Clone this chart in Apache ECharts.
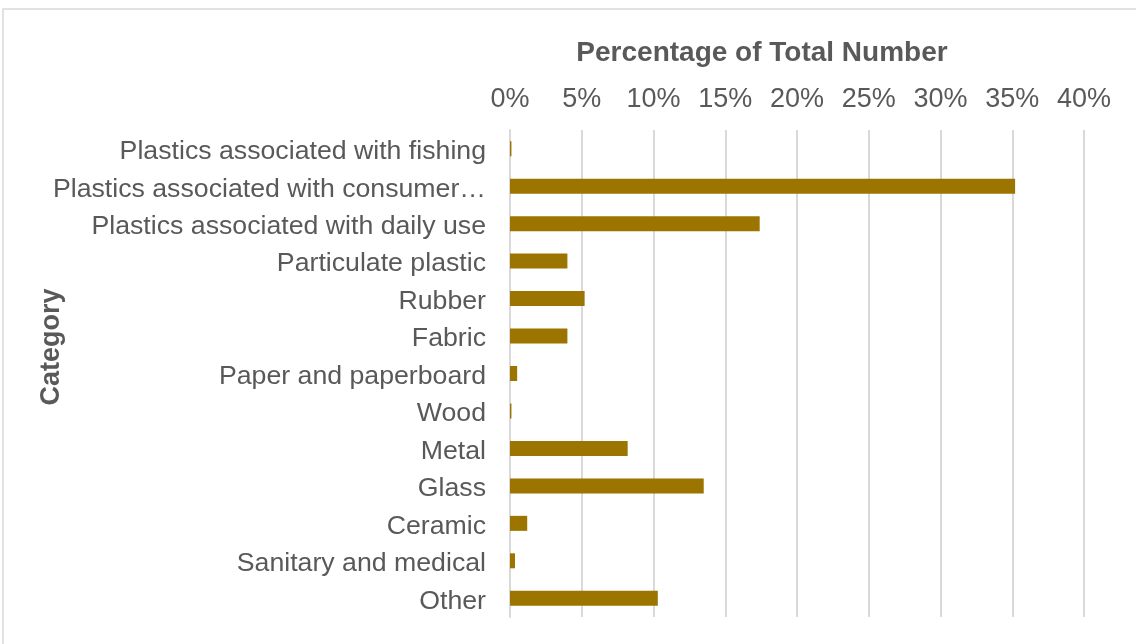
<!DOCTYPE html>
<html>
<head>
<meta charset="utf-8">
<script src="https://cdn.jsdelivr.net/npm/echarts@6/dist/echarts.min.js"></script>
<style>
  html, body { margin: 0; padding: 0; background: #fff; }
  #chart { width: 1136px; height: 644px; }
</style>
</head>
<body>
<div id="chart"></div>
<script>
// Litter categories, listed top to bottom
const categories = [
  'Plastics associated with fishing',
  'Plastics associated with consumer products',
  'Plastics associated with daily use',
  'Particulate plastic',
  'Rubber',
  'Fabric',
  'Paper and paperboard',
  'Wood',
  'Metal',
  'Glass',
  'Ceramic',
  'Sanitary and medical',
  'Other'
];

// Share of the total item count, in percent
const percentOfTotal = [0.1, 35.2, 17.4, 4.0, 5.2, 4.0, 0.5, 0.1, 8.2, 13.5, 1.2, 0.35, 10.3];

// Value axis ticks (percent)
const axisMin = 0;
const axisMax = 40;
const axisStep = 5;

const textColor = '#595959';
const gridColor = '#d9d9d9';
const barColor = '#9c7500';
const fontFamily = 'Liberation Sans, Arial, sans-serif';

const chart = echarts.init(document.getElementById('chart'), null, { renderer: 'canvas' });

chart.setOption({
  animation: false,
  backgroundColor: '#ffffff',
  textStyle: { fontFamily: fontFamily },
  grid: { left: 510, right: 52, top: 130, bottom: 27, containLabel: false },
  xAxis: {
    type: 'value',
    position: 'top',
    min: axisMin,
    max: axisMax,
    interval: axisStep,
    axisLine: { show: false },
    axisTick: { show: false },
    splitLine: { show: true, lineStyle: { color: gridColor, width: 2 } },
    axisLabel: {
      color: textColor,
      fontSize: 27,
      fontFamily: fontFamily,
      margin: 17,
      formatter: '{value}%'
    }
  },
  yAxis: {
    type: 'category',
    data: categories,
    inverse: true,
    axisLine: { show: true, lineStyle: { color: gridColor, width: 2 } },
    axisTick: { show: false },
    axisLabel: {
      color: textColor,
      fontSize: 26.7,
      fontFamily: fontFamily,
      margin: 24,
      width: 437,
      overflow: 'truncate',
      ellipsis: '…',
      formatter: (name) => '{l|' + name + '}',
      rich: {
        l: {
          color: textColor,
          fontSize: 26.7,
          fontFamily: fontFamily,
          padding: [6, 0, 0, 0]
        }
      }
    }
  },
  series: [{
    type: 'bar',
    data: percentOfTotal,
    barWidth: 15,
    itemStyle: { color: barColor },
    silent: true
  }],
  graphic: [
    {
      type: 'rect',
      shape: { x: 3, y: 9, width: 1200, height: 700 },
      style: { fill: 'none', stroke: gridColor, lineWidth: 1.5 },
      silent: true,
      z: -1
    },
    {
      type: 'text',
      x: 762,
      y: 53,
      style: {
        text: 'Percentage of Total Number',
        fill: textColor,
        font: 'bold 28px ' + fontFamily,
        textAlign: 'center',
        textVerticalAlign: 'middle'
      }
    },
    {
      type: 'text',
      x: 52,
      y: 347,
      rotation: Math.PI / 2,
      style: {
        text: 'Category',
        fill: textColor,
        font: 'bold 27px ' + fontFamily,
        textAlign: 'center',
        textVerticalAlign: 'middle'
      }
    }
  ]
});
</script>
</body>
</html>
